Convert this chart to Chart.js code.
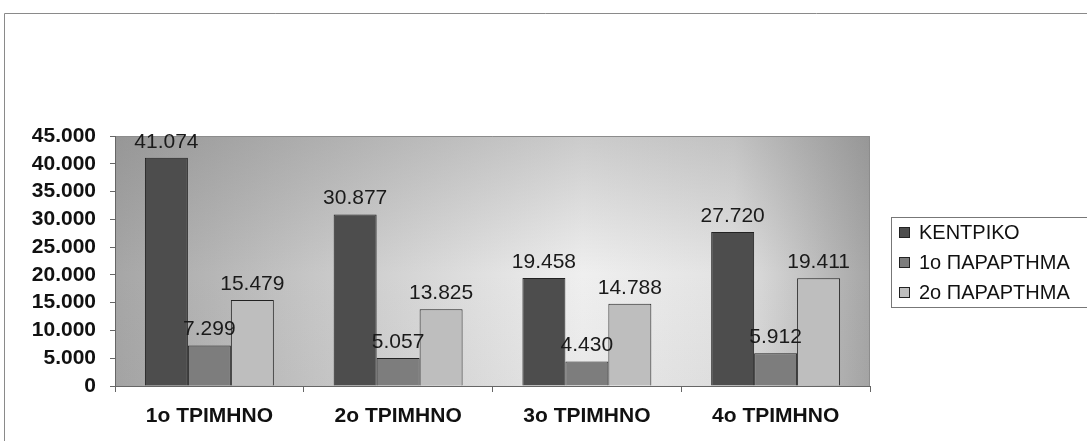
<!DOCTYPE html>
<html>
<head>
<meta charset="utf-8">
<script src="https://cdn.jsdelivr.net/npm/chart.js@4"></script>
<style>
html,body{margin:0;padding:0;background:#fff;overflow:hidden;}
canvas{display:block;}
</style>
</head>
<body>
<canvas id="c" width="1087" height="441"></canvas>
<script>
const categories = ["1ο ΤΡΙΜΗΝΟ", "2ο ΤΡΙΜΗΝΟ", "3ο ΤΡΙΜΗΝΟ", "4ο ΤΡΙΜΗΝΟ"];
const seriesNames = ["ΚΕΝΤΡΙΚΟ", "1ο ΠΑΡΑΡΤΗΜΑ", "2ο ΠΑΡΑΡΤΗΜΑ"];
const kentriko = [41074, 30877, 19458, 27720];
const parartima1 = [7299, 5057, 4430, 5912];
const parartima2 = [15479, 13825, 14788, 19411];
const yTicks = [0, 5000, 10000, 15000, 20000, 25000, 30000, 35000, 40000, 45000];

const colors = ["#4d4d4d", "#7d7d7d", "#bebebe"];
const FONT = '"Liberation Sans", Arial, sans-serif';

function fmt(v) {
  return String(v).replace(/\B(?=(\d{3})+(?!\d))/g, ".");
}

const bgPlugin = {
  id: "bg",
  beforeDraw(chart) {
    const {ctx, chartArea: a} = chart;
    ctx.save();
    ctx.strokeStyle = "#8a8a8a";
    ctx.lineWidth = 1;
    ctx.beginPath();
    ctx.moveTo(4.5, 441);
    ctx.lineTo(4.5, 13.5);
    ctx.lineTo(1087, 13.5);
    ctx.stroke();
    const g = ctx.createLinearGradient(a.left, 0, a.right, 0);
    g.addColorStop(0, "#a6a6a6");
    g.addColorStop(0.3, "#cbcbcb");
    g.addColorStop(0.62, "#efefef");
    g.addColorStop(0.82, "#e2e2e2");
    g.addColorStop(1, "#a6a6a6");
    ctx.fillStyle = g;
    ctx.fillRect(a.left, a.top, a.right - a.left, a.bottom - a.top);
    const v = ctx.createLinearGradient(0, a.top, 0, a.bottom);
    v.addColorStop(0, "rgba(110,110,110,0.28)");
    v.addColorStop(0.55, "rgba(110,110,110,0)");
    v.addColorStop(1, "rgba(110,110,110,0.05)");
    ctx.fillStyle = v;
    ctx.fillRect(a.left, a.top, a.right - a.left, a.bottom - a.top);
    ctx.strokeStyle = "#8c8c8c";
    ctx.beginPath();
    ctx.moveTo(a.left, a.top + 0.5);
    ctx.lineTo(a.right - 0.5, a.top + 0.5);
    ctx.lineTo(a.right - 0.5, a.bottom);
    ctx.stroke();
    ctx.restore();
  }
};

const labelPlugin = {
  id: "vals",
  afterDatasetsDraw(chart) {
    const ctx = chart.ctx;
    ctx.save();
    ctx.font = "21px " + FONT;
    ctx.fillStyle = "#1a1a1a";
    ctx.textAlign = "center";
    ctx.textBaseline = "alphabetic";
    chart.data.datasets.forEach((ds, i) => {
      const meta = chart.getDatasetMeta(i);
      meta.data.forEach((el, j) => {
        ctx.fillText(fmt(ds.data[j]), el.x, el.y - 10);
      });
    });
    ctx.restore();
  }
};

const legendPlugin = {
  id: "customLegend",
  afterDraw(chart) {
    const {ctx, chartArea: a} = chart;
    const cy = (a.top + a.bottom) / 2 + 1;
    const left = a.right + 21;
    const top = cy - 45;
    ctx.save();
    ctx.fillStyle = "#ffffff";
    ctx.fillRect(left, top, 300, 90);
    ctx.strokeStyle = "#777";
    ctx.lineWidth = 1;
    ctx.strokeRect(left + 0.5, top + 0.5, 300, 90);
    ctx.font = "20px " + FONT;
    ctx.textAlign = "left";
    ctx.textBaseline = "middle";
    chart.data.datasets.forEach((ds, i) => {
      const y = top + 15 + i * 30;
      ctx.fillStyle = ds.backgroundColor;
      ctx.fillRect(left + 8, y - 5, 11, 11);
      ctx.strokeStyle = "#222";
      ctx.strokeRect(left + 8.5, y - 4.5, 10, 10);
      ctx.fillStyle = "#111";
      ctx.fillText(ds.label, left + 28, y + 1);
    });
    ctx.restore();
  }
};

const seriesValues = [kentriko, parartima1, parartima2];

new Chart(document.getElementById("c"), {
  type: "bar",
  data: {
    labels: categories,
    datasets: seriesNames.map((name, i) => ({
      label: name,
      data: seriesValues[i],
      backgroundColor: colors[i],
      borderColor: "#222",
      borderWidth: 1,
      categoryPercentage: 0.683,
      barPercentage: 1
    }))
  },
  options: {
    responsive: false,
    animation: false,
    layout: { padding: { top: 136, right: 217, left: 0, bottom: 0 } },
    plugins: {
      legend: { display: false },
      tooltip: { enabled: false }
    },
    scales: {
      x: {
        grid: { display: true, drawOnChartArea: false, drawTicks: true, tickLength: 6, color: "#666", offset: true },
        border: { display: true, color: "#666" },
        ticks: { color: "#111", font: { family: FONT, size: 21, weight: "bold" }, padding: 12, autoSkip: false, maxRotation: 0 },
        afterFit(s) { s.height = 55; }
      },
      y: {
        min: 0,
        max: 45000,
        afterBuildTicks(s) { s.ticks = yTicks.map(v => ({ value: v })); },
        grid: { display: true, drawOnChartArea: false, drawTicks: true, tickLength: 5, color: "#666" },
        border: { display: true, color: "#666" },
        ticks: { color: "#111", font: { family: FONT, size: 21, weight: "bold" }, padding: 14, autoSkip: false, callback: v => fmt(v) },
        afterFit(s) { s.width = 115; }
      }
    }
  },
  plugins: [bgPlugin, labelPlugin, legendPlugin]
});
</script>
</body>
</html>
